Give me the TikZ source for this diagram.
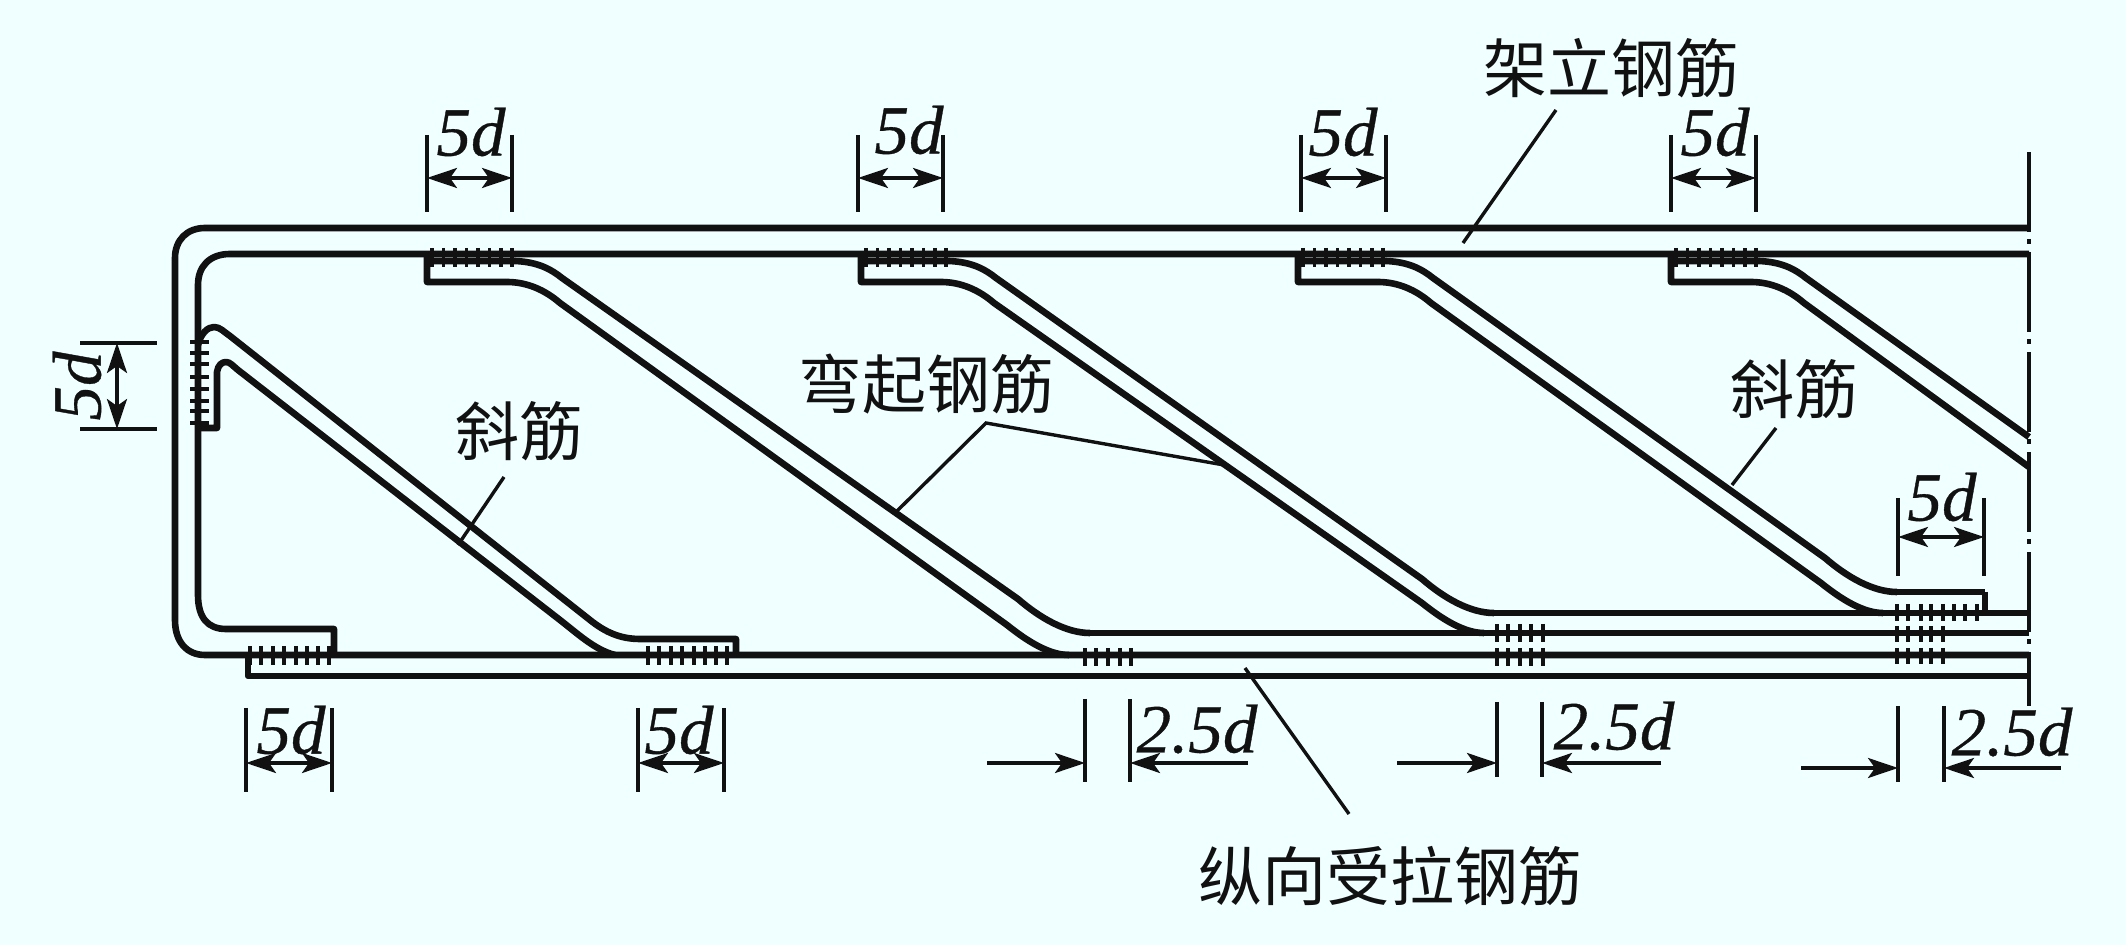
\documentclass[tikz,border=0pt]{standalone}
\usepackage{fontspec}
\usetikzlibrary{arrows.meta}
\setmainfont{Liberation Serif}
\newfontfamily\cjk{Noto Sans CJK SC}
\newfontface\dimf{Liberation Serif Italic}[FakeBold=0.5]
\definecolor{bgc}{HTML}{F0FFFF}
\definecolor{ink}{HTML}{111111}
\tikzset{
  bar/.style={line width=3.3pt,draw=ink,line join=round},
  thin/.style={line width=1.9pt,draw=ink},
  tick/.style={line width=1.9pt,draw=ink},
  leader/.style={line width=1.7pt,draw=ink},
  dimarrow/.style={line width=1.6pt,draw=ink,{Stealth[length=15pt,width=10pt,inset=3.5pt]}-{Stealth[length=15pt,width=10pt,inset=3.5pt]}},
  onearrow/.style={line width=1.7pt,draw=ink,-{Stealth[length=15pt,width=10pt,inset=3.5pt]}},
  dimtext/.style={text=ink,font=\fontsize{34.5}{34.5}\selectfont\dimf,inner sep=0pt},
  cntext/.style={text=ink,font=\fontsize{32}{32}\selectfont\cjk,inner sep=0pt},
  centerline/.style={line width=1.9pt,draw=ink,dash pattern=on 40pt off 3.5pt on 2.5pt off 4pt}
}
\newcommand{\tickrow}[3]{\foreach \tx in {#1}{\draw[tick] (\tx,#2) -- (\tx,#3);}}
\newcommand{\bentbar}[5]{%
  \draw[bar] (#1,255) -- (#1,282) -- ({#1+80},282)
    .. controls ({#1+100},282) and ({#1+118},290) .. ({#1+133},303)
    -- ({#4-62},{#5-30})
    .. controls ({#4-42},{#5-14}) and ({#4-20},#5) .. (#4,#5);
  \draw[bar] (#1,261) -- ({#1+88},261)
    .. controls ({#1+112},262) and ({#1+125},270) .. ({#1+135},278)
    -- ({#2-72},{#3-34})
    .. controls ({#2-50},{#3-15}) and ({#2-24},#3) .. (#2,#3);
  \tickrow{{#1+5},{#1+16.5},{#1+28},{#1+39.5},{#1+51},{#1+62.5},{#1+74},{#1+85}}{248}{267}
}
\newcommand{\fived}[6]{%
  \coordinate (#1l) at (#2,#6); \coordinate (#1r) at (#3,#6);
  \draw[thin] (#2,#4) -- (#2,#5);
  \draw[thin] (#3,#4) -- (#3,#5);
  \draw[dimarrow] (#1l) -- (#1r);
}
\newcommand{\twofive}[8]{%
  \coordinate (#1a) at (#4,#6); \coordinate (#1b) at (#2,#6);
  \coordinate (#1c) at (#5,#6); \coordinate (#1d) at (#3,#6);
  \draw[thin] (#2,#7) -- (#2,#8);
  \draw[thin] (#3,#7) -- (#3,#8);
  \draw[onearrow] (#1a) -- (#1b);
  \draw[onearrow] (#1c) -- (#1d);
}
\begin{document}
\begin{tikzpicture}[x=0.5pt,y=-0.5pt]
\useasboundingbox (0,0) rectangle (2126,945);
\fill[bgc] (0,0) rectangle (2126,945);

% centre line
\draw[centerline] (2029,152) -- (2029,706);

% main bars
\draw[bar] (2029,228) -- (205,228) .. controls (187,228) and (175,240) .. (175,258)
  -- (175,620) .. controls (175,642) and (187,655) .. (205,655) -- (2029,655);
\draw[bar] (2029,254) -- (230,254) .. controls (210,254) and (198,266) .. (198,285)
  -- (198,595) .. controls (198,618) and (208,629) .. (226,629) -- (334,629) -- (334,655);
\draw[bar] (248,655) -- (248,676) -- (2029,676);

% short bar at left
\draw[bar] (198,345) .. controls (201,333) and (208,327) .. (214,327)
  .. controls (220,327) and (224,332) .. (230,336)
  -- (590,620) .. controls (605,632) and (620,639) .. (640,639)
  -- (736,639) -- (736,655);
\draw[bar] (198,428) -- (217,428) -- (217,372)
  .. controls (218,365) and (222,362) .. (226,362)
  .. controls (230,362) and (233,366) .. (238,370)
  -- (560,620) .. controls (578,634) and (595,650) .. (615,655);

% bent bars
\bentbar{427}{1090}{633}{1069}{655}
\bentbar{861}{1494}{613}{1484}{633}
\bentbar{1298}{1897}{592}{1883}{613}
\draw[bar] (1985,592) -- (1985,613);
\draw[bar] (1897,592) -- (1985,592);
\draw[bar] (2029,613) -- (1494,613);
\draw[bar] (2029,633) -- (1090,633);
% last bar runs off to the centre line
\draw[bar] (1671,255) -- (1671,282) -- (1751,282)
  .. controls (1771,282) and (1789,290) .. (1804,303) -- (2029,467);
\draw[bar] (1671,261) -- (1759,261) .. controls (1783,262) and (1796,270) .. (1806,278) -- (2029,437);
\tickrow{1676,1687.5,1699,1710.5,1722,1733.5,1745,1756}{248}{267}

% ticks on the left hook
\foreach \ty in {342,353,364,377,389,401,411,423}{\draw[tick] (190,\ty) -- (209,\ty);}
% ticks on the bottom
\tickrow{250,261,273,284,296,307,318,329}{646}{665}
\tickrow{648,659,671,682,694,705,716,727}{646}{665}
\tickrow{1085,1096,1108,1120,1131}{648}{666}
\tickrow{1497,1508,1520,1531,1543}{624}{642}
\tickrow{1497,1508,1520,1531,1543}{648}{666}
\tickrow{1897,1908,1921,1931,1943,1954,1965,1977}{604}{621}
\tickrow{1897,1908,1921,1931,1943}{626}{642}
\tickrow{1897,1908,1921,1931,1943}{648}{664}

% 5d dimensions
\fived{ta}{427}{512}{135}{212}{178}
\fived{tb}{858}{943}{135}{212}{178}
\fived{tc}{1301}{1386}{135}{212}{178}
\fived{td}{1671}{1756}{135}{212}{178}
\fived{ba}{246}{332}{708}{792}{763}
\fived{bb}{638}{724}{708}{792}{763}
\fived{rd}{1898}{1984}{498}{576}{537}
\node[dimtext] (t5a) at (471,132) {5d};
\node[dimtext] (t5b) at (909,130) {5d};
\node[dimtext] (t5c) at (1343,132) {5d};
\node[dimtext] (t5d) at (1715,132) {5d};
\node[dimtext] (t5e) at (291,730) {5d};
\node[dimtext] (t5f) at (679,730) {5d};
\node[dimtext] (t5g) at (1942,497) {5d};

% left vertical 5d
\coordinate (lu) at (117,343); \coordinate (ld) at (117,429);
\draw[thin] (80,343) -- (157,343);
\draw[thin] (80,429) -- (157,429);
\draw[dimarrow] (lu) -- (ld);
\node[dimtext,rotate=90] (t5h) at (77,386) {5d};

% 2.5d dimensions
\twofive{da}{1085}{1130}{987}{1248}{763}{699}{782}
\twofive{db}{1497}{1542}{1397}{1661}{763}{702}{777}
\twofive{dc}{1898}{1944}{1801}{2061}{768}{706}{782}
\node[dimtext] (t25a) at (1197,729) {2.5d};
\node[dimtext] (t25b) at (1614,726) {2.5d};
\node[dimtext] (t25c) at (2012,732) {2.5d};

% labels
\node[cntext] (jl) at (1611,68) {架立钢筋};
\node[cntext] (wq) at (926,384) {弯起钢筋};
\node[cntext] (xa) at (519,431) {斜筋};
\node[cntext] (xb) at (1794,389) {斜筋};
\node[cntext] (zx) at (1390,876) {纵向受拉钢筋};

% leaders
\coordinate (jlend) at (1463,243);
\draw[leader] (1556,110) -- (jlend);
\coordinate (wqa) at (895,513); \coordinate (wqb) at (986,423); \coordinate (wqc) at (1224,465);
\draw[leader] (wqa) -- (wqb) -- (wqc);
\coordinate (xaa) at (504,477); \coordinate (xae) at (458,545);
\draw[leader] (xaa) -- (xae);
\coordinate (xba) at (1776,428); \coordinate (xbe) at (1732,485);
\draw[leader] (xba) -- (xbe);
\coordinate (zxa) at (1349,814); \coordinate (zxe) at (1245,668);
\draw[leader] (zxa) -- (zxe);
\end{tikzpicture}
\end{document}
